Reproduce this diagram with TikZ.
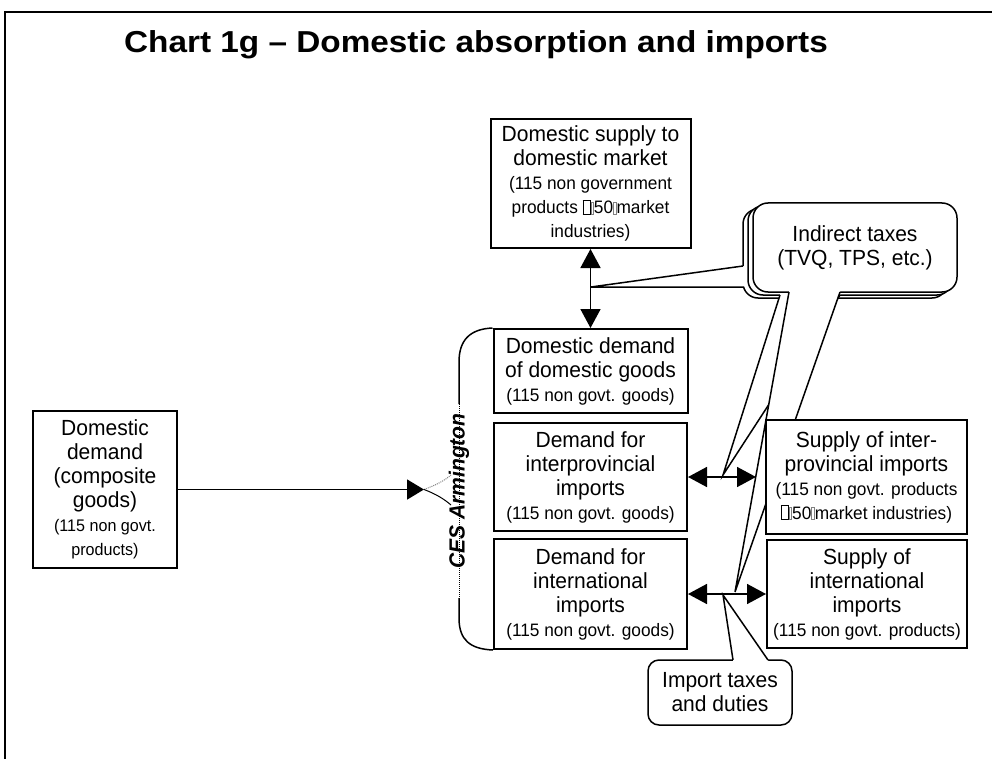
\documentclass[tikz,border=0pt]{standalone}
\usepackage{fontspec}
\setmainfont[FakeStretch=0.96]{Liberation Sans}
\newfontfamily\titlefont[FakeStretch=1.1]{Liberation Sans}
\usetikzlibrary{arrows.meta}

\pgfdeclarelayer{background}
\pgfsetlayers{background,main}
\tikzstyle{block}=[draw, line width=2pt, fill=white, inner sep=0pt, align=center,
    font=\fontsize{21.9}{24}\selectfont]
\tikzstyle{bubble}=[block, line width=1.5pt, rounded corners=15pt]
\tikzstyle{tail}=[line width=1.5pt]
\tikzstyle{link}=[line width=1.6pt, {Triangle[length=19pt,width=20pt]}-{Triangle[length=19pt,width=20pt]}]
\tikzstyle{feed}=[line width=1.6pt, -{Triangle[length=17pt,width=20pt]}]
\newcommand{\sm}{\fontsize{18}{24}\selectfont}
\newcommand{\smx}{\fontsize{16.8}{24}\selectfont}
\newcommand{\nobox}{{\setlength{\fboxsep}{0pt}\setlength{\fboxrule}{0.9pt}\fbox{\rule{0pt}{13pt}\hspace{6pt}}}}
\newcommand{\thinbox}{{\color{gray}\setlength{\fboxsep}{0pt}\setlength{\fboxrule}{0.7pt}\fbox{\rule{0pt}{11pt}\hspace{2pt}}}}

\begin{document}
\begin{tikzpicture}[x=1pt,y=-1pt]
    \useasboundingbox (0,0) rectangle (992,759);
    \draw[line width=2pt] (5,759) -- (5,12) -- (992,12);
    \node (title)[anchor=base, font=\titlefont\bfseries\fontsize{30.3}{36}\selectfont] at (476,53)
        {Chart 1g – Domestic absorption and imports};

    % Define the nodes in the picture
    \node (dom_sup) [block, minimum width=200pt, minimum height=129pt] at (590.5,183.5)
        {Domestic supply to\\domestic market\\\sm (115 non government\\\sm products \nobox\thinbox50\thinbox market\\\sm industries)};
    \node (dom_dem) [block, minimum width=194pt, minimum height=84pt] at (590.5,371)
        {Domestic demand\\of domestic goods\\\sm (115 non govt. goods)};
    \node (ip_dem) [block, minimum width=193pt, minimum height=108pt] at (590.5,477)
        {Demand for\\interprovincial\\imports\\\sm (115 non govt. goods)};
    \node (in_dem) [block, minimum width=193pt, minimum height=110pt] at (590.5,594)
        {Demand for\\international\\imports\\\sm (115 non govt. goods)};
    \node (comp_dem) [block, minimum width=144pt, minimum height=157pt] at (105,489.5)
        {Domestic\\demand\\(composite\\goods)\\\smx (115 non govt.\\\smx products)};
    \node (ip_sup) [block, minimum width=201pt, minimum height=114pt] at (866.5,477)
        {Supply of inter-\\provincial imports\\\sm (115 non govt. products\\\sm\nobox\thinbox50\thinbox market industries)};
    \node (in_sup) [block, minimum width=200pt, minimum height=108pt] at (867,594)
        {Supply of\\international\\imports\\\sm (115 non govt. products)};
    \node (ces) [rotate=90, font=\fontsize{21.9}{24}\selectfont\bfseries\itshape] at (459,491) {CES Armington};
    \coordinate (ces_in) at (424,489.5);
    \coordinate (ind_a) at (591,287);
    \coordinate (ind_b) at (723,475);
    \coordinate (ind_c) at (735,592);
    \coordinate (imp_tip) at (723,595);

    % Define the edges in the picture
    \draw [feed] (comp_dem.east) -- (ces_in);
    \draw [line width=1pt, gray, densely dotted] (ces_in) .. controls (436,485) and (444,481) .. (451,475);
    \draw [line width=1pt] (ces_in) .. controls (436,494) and (444,499) .. (451,505);
    \draw [line width=1.5pt] (dom_dem.north west) .. controls (470,329) and (459,340) .. (459,362) -- (459,404);
    \draw [line width=1pt, densely dotted] (459,404) -- (459,598);
    \draw [line width=1.5pt] (459,598) -- (459,618) .. controls (459,640) and (470,649) .. (in_dem.south west);
    \draw [link] (dom_sup.south) -- (dom_dem.north);
    \draw [link, shorten >=9pt] (ip_dem.east) -- (ip_sup.west);
    \draw [link] (in_dem.east) -- (in_sup.west);

    % Callouts behind the boxes
    \begin{pgfonlayer}{background}
    \node (ind_back) [bubble, minimum width=204pt, minimum height=89pt] at (845,253.5) {};
    \fill [white] (743,266) -- (ind_a) -- (744,287) -- (747,285) -- (747,266) -- cycle;
    \draw [tail] (743,266) -- (ind_a) -- (744,287);
    \node (ind_mid) [bubble, minimum width=204pt, minimum height=89pt] at (850,250.5) {};
    \fill [white] (780,295) -- (ind_b) -- (840,295) -- (840,292) -- (780,292) -- cycle;
    \draw [tail] (780,295) -- (ind_b) -- (840,295);
    \node (ind_tax) [bubble, minimum width=204pt, minimum height=89pt] at (855,247.5)
        {Indirect taxes\\(TVQ, TPS, etc.)};
    \fill [white] (789,292) -- (ind_c) -- (840,292) -- (840,289) -- (789,289) -- cycle;
    \draw [tail] (789,292) -- (ind_c) -- (840,292);
    \node (imp_tax) [bubble, rounded corners=11pt, minimum width=144pt, minimum height=65pt] at (720,692.5)
        {Import taxes\\and duties};
    \fill [white] (733,660) -- (imp_tip) -- (768,660) -- (768,663) -- (733,663) -- cycle;
    \draw [tail] (733,660) -- (imp_tip) -- (768,660);
    \end{pgfonlayer}
\end{tikzpicture}
\end{document}
